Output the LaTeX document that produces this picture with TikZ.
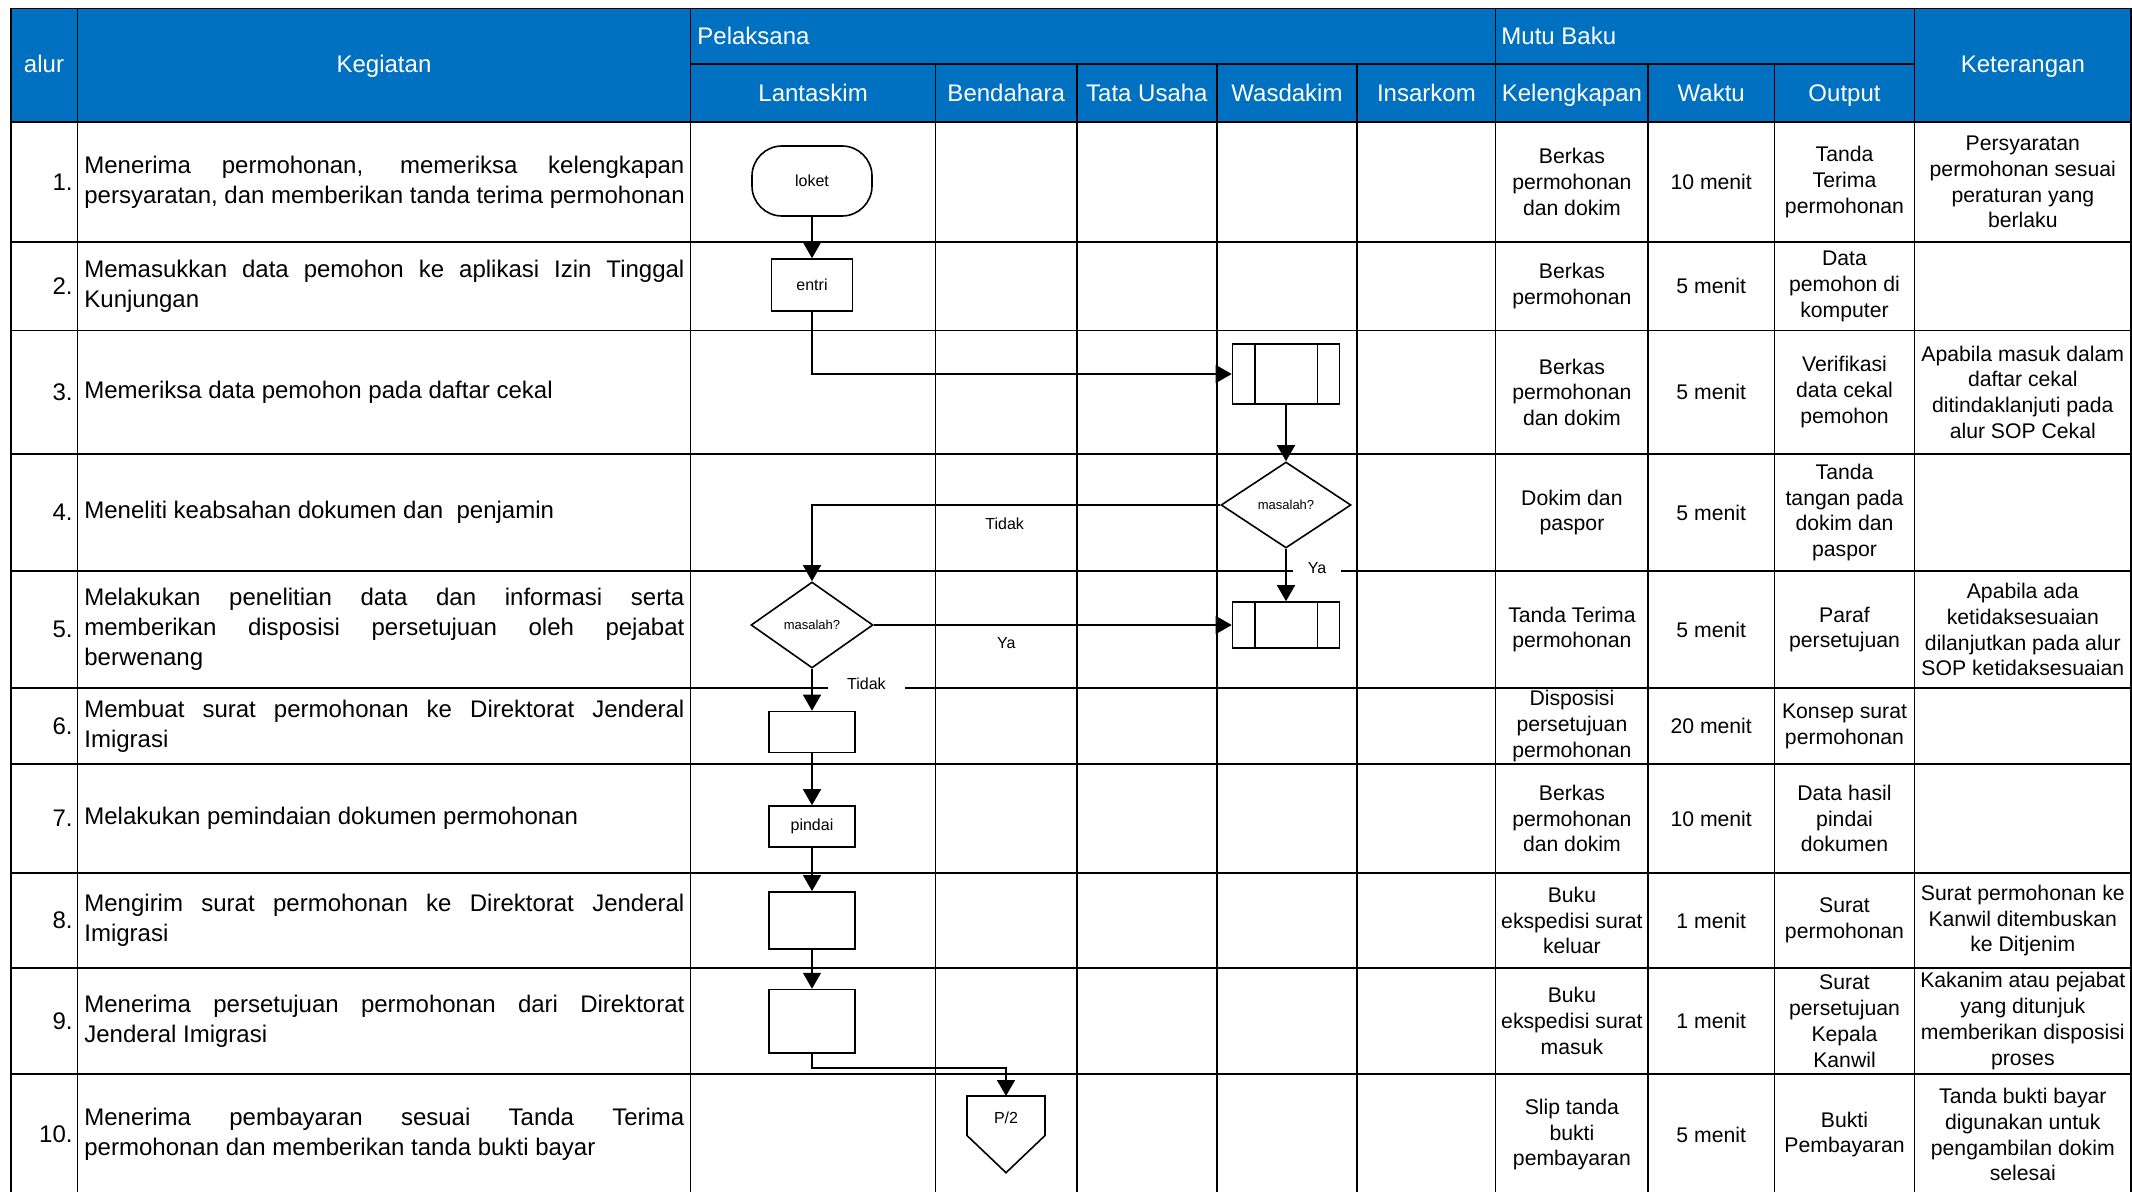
\documentclass[tikz,border=0pt]{standalone}
\usepackage{fontspec}
\setmainfont{Liberation Sans}
\usetikzlibrary{shapes.geometric,arrows.meta}
\definecolor{hdrblue}{HTML}{0070C0}
\newcommand{\jl}[1]{\makebox[300pt][s]{#1}}
\tikzset{
  tabline/.style={line width=0.75pt},
  hdr/.style={text=white, inner sep=0pt, text height=8.8pt, text depth=2.5pt, font=\fontsize{12}{14}\selectfont},
  num/.style={anchor=east, inner sep=0pt, font=\fontsize{12}{15}\selectfont},
  kegiatan/.style={anchor=west, inner sep=0pt, align=left, font=\fontsize{12}{15}\selectfont},
  cell/.style={align=center, inner sep=0pt, font=\fontsize{10.6}{12.9}\selectfont},
  flowbox/.style={draw, line width=0.8pt, inner sep=0pt, font=\fontsize{8}{9.6}\selectfont},
  decide/.style={flowbox, diamond, minimum height=43pt, font=\fontsize{6.5}{8}\selectfont},
  flow/.style={line width=0.8pt, -{Triangle[length=8pt,width=9pt]}},
  lbl/.style={inner sep=2pt, font=\fontsize{8}{9.6}\selectfont},
}
\begin{document}
\begin{tikzpicture}[x=0.5pt, y=-0.5pt]
  \useasboundingbox (0,0) rectangle (2132,1192);
  \clip (0,0) rectangle (2132,1192);

  \fill[hdrblue] (11,8.3) rectangle (2131,122);
  \draw[tabline] (11,8.3) -- (2131,8.3);
  \draw[tabline] (690.7,63.9) -- (1914.5,63.9);
  \foreach \y in {122,242,330.4,454.1,571.1,688,764.2,873,968.1,1074.2}
    \draw[tabline] (11,\y) -- (2131,\y);
  \foreach \x in {11,77.5,690.7,1495.7,1914.5,2131}
    \draw[tabline] (\x,8.3) -- (\x,1200);
  \foreach \x in {935.5,1076.9,1216.9,1357,1648,1774.4}
    \draw[tabline] (\x,63.9) -- (\x,1200);

  \node[hdr] (halur) at (44,66) {alur};
  \node[hdr] (hkeg) at (384,66) {Kegiatan};
  \node[hdr, anchor=west] (hpel) at (697,38.5) {Pelaksana};
  \node[hdr, anchor=west] (hmutu) at (1501,38.5) {Mutu Baku};
  \node[hdr] (hket) at (2022.8,66) {Keterangan};
  \node[hdr] (hlan) at (813.1,95) {Lantaskim};
  \node[hdr] (hben) at (1006.2,95) {Bendahara};
  \node[hdr] (htu) at (1146.9,95) {Tata Usaha};
  \node[hdr] (hwas) at (1287,95) {Wasdakim};
  \node[hdr] (hins) at (1426.4,95) {Insarkom};
  \node[hdr] (hkel) at (1571.9,95) {Kelengkapan};
  \node[hdr] (hwak) at (1711.2,95) {Waktu};
  \node[hdr] (hout) at (1844.5,95) {Output};

  \foreach \i/\y in {1/182,2/286.2,3/392.3,4/512.6,5/629.6,6/726.1,7/818.6,8/920.6,9/1021.2,10/1134.6}
    \node[num] (n\i) at (73,\y) {\i.};

  \node[kegiatan] (k1) at (84,182) {\jl{Menerima permohonan, memeriksa kelengkapan}\\persyaratan, dan memberikan tanda terima permohonan};
  \node[kegiatan] (k2) at (84,286.2) {\jl{Memasukkan data pemohon ke aplikasi Izin Tinggal}\\Kunjungan};
  \node[kegiatan] (k3) at (84,392.3) {Memeriksa data pemohon pada daftar cekal};
  \node[kegiatan] (k4) at (84,512.6) {Meneliti keabsahan dokumen dan~ penjamin};
  \node[kegiatan] (k5) at (84,629.6) {\jl{Melakukan penelitian data dan informasi serta}\\\jl{memberikan disposisi persetujuan oleh pejabat}\\berwenang};
  \node[kegiatan] (k6) at (84,726.1) {\jl{Membuat surat permohonan ke Direktorat Jenderal}\\Imigrasi};
  \node[kegiatan] (k7) at (84,818.6) {Melakukan pemindaian dokumen permohonan};
  \node[kegiatan] (k8) at (84,920.6) {\jl{Mengirim surat permohonan ke Direktorat Jenderal}\\Imigrasi};
  \node[kegiatan] (k9) at (84,1021.2) {\jl{Menerima persetujuan permohonan dari Direktorat}\\Jenderal Imigrasi};
  \node[kegiatan] (k10) at (84,1134.6) {\jl{Menerima pembayaran sesuai Tanda Terima}\\permohonan dan memberikan tanda bukti bayar};

  \node[cell] (kel1) at (1571.9,182) {Berkas\\permohonan\\dan dokim};
  \node[cell] (wak1) at (1711.2,182) {10 menit};
  \node[cell] (out1) at (1844.5,182) {Tanda\\Terima\\permohonan};
  \node[cell] (ket1) at (2022.8,182) {Persyaratan\\permohonan sesuai\\peraturan yang\\berlaku};
  \node[cell] (kel2) at (1571.9,286.2) {Berkas\\permohonan};
  \node[cell] (wak2) at (1711.2,286.2) {5 menit};
  \node[cell] (out2) at (1844.5,286.2) {Data\\pemohon di\\komputer};
  \node[cell] (kel3) at (1571.9,392.3) {Berkas\\permohonan\\dan dokim};
  \node[cell] (wak3) at (1711.2,392.3) {5 menit};
  \node[cell] (out3) at (1844.5,392.3) {Verifikasi\\data cekal\\pemohon};
  \node[cell] (ket3) at (2022.8,392.3) {Apabila masuk dalam\\daftar cekal\\ditindaklanjuti pada\\alur SOP Cekal};
  \node[cell] (kel4) at (1571.9,512.6) {Dokim dan\\paspor};
  \node[cell] (wak4) at (1711.2,512.6) {5 menit};
  \node[cell] (out4) at (1844.5,512.6) {Tanda\\tangan pada\\dokim dan\\paspor};
  \node[cell] (kel5) at (1571.9,629.6) {Tanda Terima\\permohonan};
  \node[cell] (wak5) at (1711.2,629.6) {5 menit};
  \node[cell] (out5) at (1844.5,629.6) {Paraf\\persetujuan};
  \node[cell] (ket5) at (2022.8,629.6) {Apabila ada\\ketidaksesuaian\\dilanjutkan pada alur\\SOP ketidaksesuaian};
  \node[cell] (kel6) at (1571.9,726.1) {Disposisi\\persetujuan\\permohonan};
  \node[cell] (wak6) at (1711.2,726.1) {20 menit};
  \node[cell] (out6) at (1844.5,726.1) {Konsep surat\\permohonan};
  \node[cell] (kel7) at (1571.9,818.6) {Berkas\\permohonan\\dan dokim};
  \node[cell] (wak7) at (1711.2,818.6) {10 menit};
  \node[cell] (out7) at (1844.5,818.6) {Data hasil\\pindai\\dokumen};
  \node[cell] (kel8) at (1571.9,920.6) {Buku\\ekspedisi surat\\keluar};
  \node[cell] (wak8) at (1711.2,920.6) {1 menit};
  \node[cell] (out8) at (1844.5,920.6) {Surat\\permohonan};
  \node[cell] (ket8) at (2022.8,920.6) {Surat permohonan ke\\Kanwil ditembuskan\\ke Ditjenim};
  \node[cell] (kel9) at (1571.9,1021.2) {Buku\\ekspedisi surat\\masuk};
  \node[cell] (wak9) at (1711.2,1021.2) {1 menit};
  \node[cell] (out9) at (1844.5,1021.2) {Surat\\persetujuan\\Kepala\\Kanwil};
  \node[cell] (ket9) at (2022.8,1021.2) {Kakanim atau pejabat\\yang ditunjuk\\memberikan disposisi\\proses};
  \node[cell] (kel10) at (1571.9,1134.6) {Slip tanda\\bukti\\pembayaran};
  \node[cell] (wak10) at (1711.2,1134.6) {5 menit};
  \node[cell] (out10) at (1844.5,1134.6) {Bukti\\Pembayaran};
  \node[cell] (ket10) at (2022.8,1134.6) {Tanda bukti bayar\\digunakan untuk\\pengambilan dokim\\selesai};

  \node[flowbox, rounded corners=15pt, minimum width=60pt, minimum height=35pt] (loket) at (812,181) {loket};
  \node[flowbox, minimum width=40.5pt, minimum height=26pt] (entri) at (812,285) {entri};
  \node[flowbox, minimum width=53.5pt, minimum height=30pt] (cekal) at (1286,374) {};
  \node[decide, minimum width=65pt] (dec1) at (1286,505) {masalah?};
  \node[decide, minimum width=61pt] (dec2) at (812,625) {masalah?};
  \node[flowbox, minimum width=53.5pt, minimum height=23pt] (paraf) at (1286,625) {};
  \node[flowbox, minimum width=43pt, minimum height=20.5pt] (buat) at (812,732) {};
  \node[flowbox, minimum width=43pt, minimum height=20.5pt] (pindai) at (812,826.5) {pindai};
  \node[flowbox, minimum width=43pt, minimum height=28.5pt] (kirim) at (812,920.4) {};
  \node[flowbox, minimum width=43pt, minimum height=31.75pt] (terima) at (812,1021.3) {};
  \foreach \p in {cekal,paraf} {
    \draw[line width=0.8pt] ([xshift=11.5pt]\p.north west) -- ([xshift=11.5pt]\p.south west);
    \draw[line width=0.8pt] ([xshift=-11.5pt]\p.north east) -- ([xshift=-11.5pt]\p.south east);
  }
  \draw[line width=0.8pt] (967,1096) -- (1045,1096) -- (1045,1135.5) -- (1006,1172.7) -- (967,1135.5) -- cycle;
  \node[lbl] (pg) at (1006,1118) {P/2};
  \coordinate (pgtop) at (1006,1096);

  \draw[flow] (loket.south) -- (entri.north);
  \draw[flow] (entri.south) |- (cekal.west);
  \draw[flow] (cekal.south) -- (dec1.north);
  \draw[flow] (dec1.west) -| node[lbl, pos=0.264, below=4pt] (tidak1) {Tidak} (dec2.north);
  \draw[flow] (dec1.south) -- node[lbl, pos=0.37, anchor=west, xshift=3pt, fill=white, inner xsep=7.5pt] (ya1) {Ya} (paraf.north);
  \draw[flow] (dec2.east) -- node[lbl, pos=0.37, below=4pt] (ya2) {Ya} (paraf.west);
  \draw[flow] (dec2.south) -- node[lbl, pos=0.36, anchor=west, xshift=7.5pt, fill=white, inner xsep=9.7pt] (tidak2) {Tidak} (buat.north);
  \draw[flow] (buat.south) -- (pindai.north);
  \draw[flow] (pindai.south) -- (kirim.north);
  \draw[flow] (kirim.south) -- (terima.north);
  \draw[flow] (terima.south) -- ++(0,14) -| (pgtop);
\end{tikzpicture}
\end{document}
